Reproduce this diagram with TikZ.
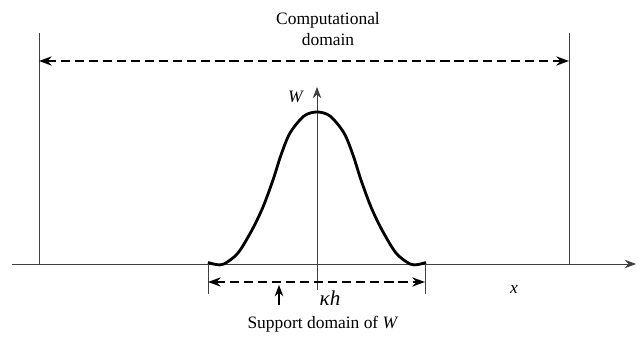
\documentclass[tikz,border=0pt]{standalone}
\usepackage{fontspec}
\setmainfont{Liberation Serif}
\usetikzlibrary{arrows.meta}

\begin{document}
\begin{tikzpicture}[x=0.025cm, y=-0.025cm,
  thinline/.style={line width=0.6pt, draw=black!75},
  axis/.style={thinline, -{Stealth[length=8pt, width=6pt]}},
  span/.style={{Stealth[length=9pt, width=6.5pt]}-{Stealth[length=9pt, width=6.5pt]}, line width=1.5pt, dash pattern=on 6.5pt off 3.5pt},
  kernel/.style={line width=2pt, line join=round},
  txt/.style={font=\rmfamily\fontsize{12.4}{15}\selectfont, inner sep=0pt, align=center}
]
\useasboundingbox (0,0) rectangle (640,339);

% computational domain
\coordinate (cltop) at (39,33);
\coordinate (clbot) at (39,264);
\coordinate (crtop) at (569,33);
\coordinate (crbot) at (569,264);
\coordinate (dl) at (39,61);
\coordinate (dr) at (569,61);
\draw[thinline] (cltop) -- (clbot);
\draw[thinline] (crtop) -- (crbot);
\draw[span] (dl) -- (dr);
\node[txt] (title) at (328,29) {Computational\\domain};

% axes
\coordinate (xstart) at (12,264);
\coordinate (xend) at (636,264);
\coordinate (wbot) at (317,290);
\coordinate (wtop) at (317,87);
\draw[axis] (xstart) -- (xend);
\draw[axis] (wbot) -- (wtop);
\node[txt] (wlabel) at (296,97) {\textit{W}};
\node[txt] (xlabel) at (514,290) {\textit{x}};

% kernel
\draw[kernel] plot[smooth, tension=0.5] coordinates {
  (208,262.5) (216,264.5) (224,264) (238,253) (252,230) (263,207)
  (273,180) (281,155) (290,133) (304,116) (317,112) (330,116) (344,133)
  (353,155) (361,180) (371,207) (382,230) (396,253) (410,264) (418,264.5) (426,262.5)};

% support domain
\coordinate (sltop) at (208,264);
\coordinate (slbot) at (208,294);
\coordinate (srtop) at (425,264);
\coordinate (srbot) at (425,294);
\coordinate (sl) at (208,282);
\coordinate (sr) at (425,282);
\draw[thinline] (sltop) -- (slbot);
\draw[thinline] (srtop) -- (srbot);
\draw[span] (sl) -- (sr);
\node[txt, font=\rmfamily\fontsize{15}{17}\selectfont] (kh) at (330,298) {\textit{κh}};

\coordinate (ptail) at (279,305);
\coordinate (ptip) at (279,285);
\draw[line width=1pt, -{Stealth[length=8pt, width=6pt]}] (ptail) -- (ptip);
\node[txt] (support) at (323,324) {Support domain of \textit{W}};

\end{tikzpicture}
\end{document}
